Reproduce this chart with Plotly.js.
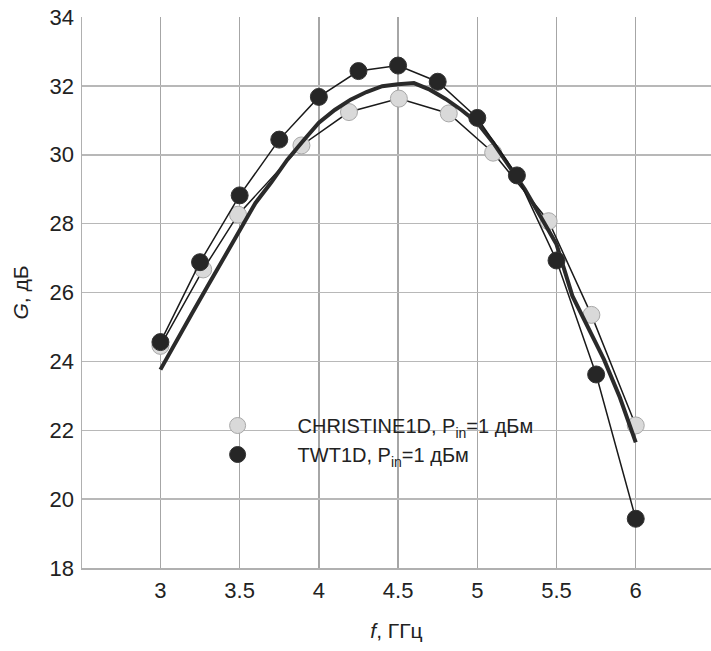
<!DOCTYPE html>
<html>
<head>
<meta charset="utf-8">
<script src="https://cdn.plot.ly/plotly-3.0.1.min.js"></script>
<style>html,body{margin:0;padding:0;background:#fff;}#chart{width:711px;height:651px;}</style>
</head>
<body>
<div id="chart"></div>
<script>
// CHRISTINE1D, Pin = 1 dBm (light markers)
const christineF = [3.0, 3.27, 3.49, 3.89, 4.19, 4.505, 4.82, 5.10, 5.45, 5.72, 6.0];
const christineG = [24.45, 26.67, 28.26, 30.27, 31.24, 31.63, 31.2, 30.06, 28.07, 25.35, 22.14];

// TWT1D, Pin = 1 dBm (dark markers)
const twtF = [3.0, 3.25, 3.5, 3.75, 4.0, 4.25, 4.5, 4.75, 5.0, 5.25, 5.5, 5.75, 6.0];
const twtG = [24.56, 26.88, 28.82, 30.44, 31.68, 32.43, 32.59, 32.12, 31.07, 29.4, 26.93, 23.62, 19.43];

// thick curve (no legend entry)
const curveF = [3.0, 3.1, 3.2, 3.3, 3.4, 3.5, 3.6, 3.7, 3.8, 3.9, 4.0, 4.1, 4.2, 4.3, 4.4, 4.5, 4.6, 4.7, 4.8, 4.9, 5.0, 5.1, 5.2, 5.3, 5.4, 5.5, 5.6, 5.7, 5.8, 5.9, 6.0];
const curveG = [23.76, 24.6, 25.4, 26.2, 27.0, 27.8, 28.6, 29.2, 29.85, 30.4, 30.93, 31.3, 31.6, 31.82, 31.99, 32.05, 32.08, 31.89, 31.62, 31.3, 30.93, 30.35, 29.7, 29.0, 28.2, 27.4, 25.9, 25.0, 24.05, 22.95, 21.65];

const xTicks = [3, 3.5, 4, 4.5, 5, 5.5, 6];
const xTickText = ["3", "3.5", "4", "4.5", "5", "5.5", "6"];
const yTicks = [18, 20, 22, 24, 26, 28, 30, 32, 34];

const FONT = "Liberation Sans, Arial, sans-serif";
const lightMarker = {size: 17, color: "#d9d9d9", line: {color: "#a8a8a8", width: 1}};
const darkMarker = {size: 17, color: "#262626", line: {color: "#333333", width: 1}};

const traces = [
  {
    x: christineF, y: christineG, type: "scatter", mode: "lines",
    showlegend: false, line: {color: "#1a1a1a", width: 1.5}
  },
  {
    x: christineF, y: christineG, type: "scatter", mode: "markers",
    name: "CHRISTINE1D, P<sub>in</sub>=1 дБм", legendgroup: "a",
    marker: lightMarker
  },
  {
    x: curveF, y: curveG, type: "scatter", mode: "lines",
    showlegend: false, line: {color: "#2a2a2a", width: 4}
  },
  {
    x: twtF, y: twtG, type: "scatter", mode: "lines",
    showlegend: false, line: {color: "#1a1a1a", width: 1.5}
  },
  {
    x: twtF, y: twtG, type: "scatter", mode: "markers",
    name: "TWT1D, P<sub>in</sub>=1 дБм", legendgroup: "b",
    marker: darkMarker
  }
];

const layout = {
  width: 711, height: 651,
  margin: {l: 82, r: 0, t: 17, b: 83},
  paper_bgcolor: "#ffffff", plot_bgcolor: "#ffffff",
  font: {family: FONT, color: "#222222"},
  showlegend: true,
  legend: {
    x: 0.152, y: 0.294, xanchor: "left", yanchor: "top",
    bgcolor: "rgba(255,255,255,0)", borderwidth: 0,
    itemwidth: 110, traceorder: "grouped", tracegroupgap: 0,
    font: {family: FONT, size: 20, color: "#222222"}
  },
  shapes: [{
    type: "rect", xref: "paper", yref: "paper", layer: "between",
    x0: 0.1488, x1: 0.785, y0: 0.171, y1: 0.298,
    fillcolor: "#ffffff", line: {width: 0}
  }],
  xaxis: {
    range: [2.505, 6.475],
    tickvals: xTicks, ticktext: xTickText,
    showgrid: true, gridcolor: "#a6a6a6", gridwidth: 1.5,
    showline: true, linecolor: "#b0b0b0", linewidth: 1.5,
    zeroline: false, ticks: "", ticklabelstandoff: 2,
    tickfont: {family: FONT, size: 22, color: "#222222"},
    title: {text: "<i>f</i>, ГГц", font: {family: FONT, size: 21, color: "#222222"}, standoff: 21},
    automargin: false
  },
  yaxis: {
    range: [18, 34],
    tickvals: yTicks,
    showgrid: true, gridcolor: "#b8b8b8", gridwidth: 1.5,
    showline: true, linecolor: "#b0b0b0", linewidth: 1.5,
    zeroline: false, ticks: "", ticklabelstandoff: 2,
    tickfont: {family: FONT, size: 22, color: "#222222"},
    title: {text: "<i>G</i>, дБ", font: {family: FONT, size: 21, color: "#222222"}, standoff: 15},
    automargin: false
  }
};

Plotly.newPlot("chart", traces, layout, {displayModeBar: false, staticPlot: true});
</script>
</body>
</html>
